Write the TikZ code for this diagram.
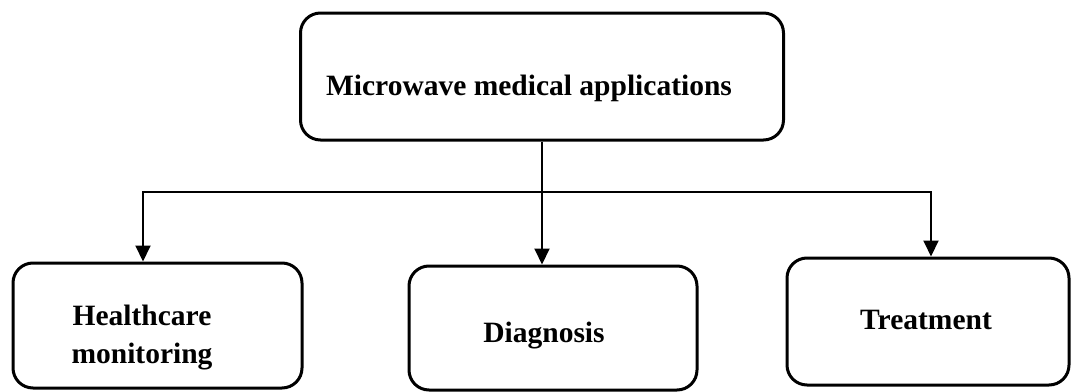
\documentclass[tikz,border=0pt]{standalone}
\usepackage{fontspec}
\setmainfont{Liberation Serif}
\usetikzlibrary{arrows.meta}
\begin{document}
\begin{tikzpicture}[x=1pt,y=-1pt,
  box/.style={draw=black,line width=3pt,rounded corners=20pt,inner sep=0pt},
  lbl/.style={font=\fontsize{29.5}{38}\selectfont\bfseries,inner sep=0pt,align=center,anchor=base},
  conn/.style={draw=black,line width=2pt},
  arr/.style={conn,-{Triangle[length=16pt,width=15pt]}}]
\useasboundingbox (0,0) rectangle (1071,391);
% boxes
\node[box,minimum width=483pt,minimum height=127pt] (top) at (542,76.5) {};
\node[box,minimum width=289pt,minimum height=125pt] (hc) at (157.5,325.5) {};
\node[box,minimum width=288pt,minimum height=124pt] (dg) at (553,328) {};
\node[box,minimum width=282pt,minimum height=127pt] (tr) at (928,321.5) {};
% texts
\node[lbl] (toptxt) at (529,95) {Microwave medical applications};
\node[lbl] (hctxt1) at (142,325) {Healthcare};
\node[lbl] (hctxt2) at (142,363) {monitoring};
\node[lbl] (dgtxt) at (544,342) {Diagnosis};
\node[lbl] (trtxt) at (926,329) {Treatment};
% connectors
\coordinate (hl) at (143,192);
\coordinate (hr) at (931,192);
\draw[conn,line cap=rect] (hl) -- (hr);
\draw[arr] (top.south) -- (top.south |- dg.north);
\draw[arr] (hl) -- (hl |- hc.north);
\draw[arr] (hr) -- (hr |- tr.north);
\end{tikzpicture}
\end{document}
